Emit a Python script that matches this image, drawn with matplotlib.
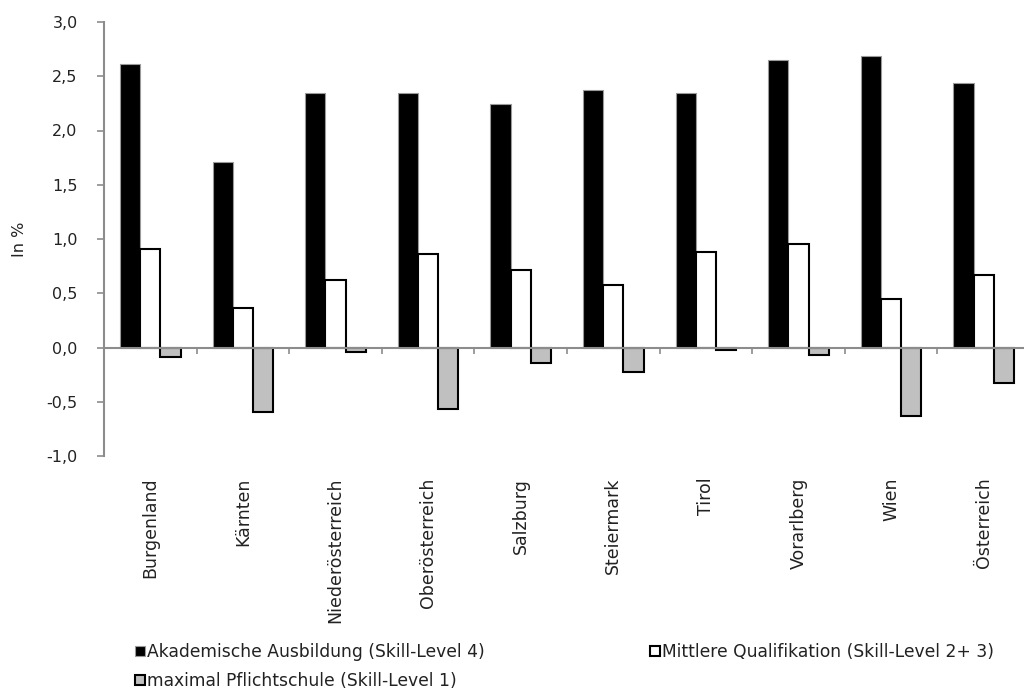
import numpy as np
import matplotlib
matplotlib.use("Agg")
import matplotlib.pyplot as plt
from matplotlib.transforms import blended_transform_factory

# Data
regions = ["Burgenland", "Kärnten", "Niederösterreich", "Oberösterreich", "Salzburg",
           "Steiermark", "Tirol", "Vorarlberg", "Wien", "Österreich"]
akademisch = [2.61, 1.71, 2.35, 2.35, 2.24, 2.37, 2.35, 2.65, 2.69, 2.44]
mittel = [0.91, 0.36, 0.62, 0.86, 0.71, 0.58, 0.88, 0.95, 0.45, 0.67]
pflicht = [-0.09, -0.59, -0.04, -0.57, -0.14, -0.23, -0.02, -0.07, -0.63, -0.33]
series_labels = ["Akademische Ausbildung (Skill-Level 4)",
                 "Mittlere Qualifikation (Skill-Level 2+ 3)",
                 "maximal Pflichtschule (Skill-Level 1)"]
yticks = [-1.0, -0.5, 0.0, 0.5, 1.0, 1.5, 2.0, 2.5, 3.0]

plt.rcParams['font.family'] = ['DejaVu Sans']
axis_grey = '#8c8c8c'
text_col = '#222222'

fig = plt.figure(figsize=(10.24, 6.98), dpi=100)
ax = fig.add_axes([104 / 1024, 1 - 456 / 698, 926 / 1024, 434 / 698])

x = np.arange(len(regions))
w = 0.218
b1 = ax.bar(x - w, akademisch, w, color='black', edgecolor='#9a9a9a', linewidth=0.8)
b2 = ax.bar(x, mittel, w, color='white', edgecolor='black', linewidth=1.5)
b3 = ax.bar(x + w, pflicht, w, color='#c0c0c0', edgecolor='black', linewidth=1.5)

ax.set_xlim(-0.5, len(regions) - 0.5)
ax.set_ylim(-1.0, 3.0)
ax.set_yticks(yticks)
ax.set_yticklabels([f"{v:.1f}".replace('.', ',') for v in yticks], fontsize=11.5, color=text_col)
ax.tick_params(axis='y', length=5, width=1.2, color=axis_grey, pad=14)

# zero line with ticks at category boundaries
ax.spines['bottom'].set_position(('data', 0))
ax.spines['bottom'].set_color(axis_grey)
ax.spines['bottom'].set_linewidth(1.5)
ax.spines['left'].set_color(axis_grey)
ax.spines['left'].set_linewidth(1.5)
ax.spines['top'].set_visible(False)
ax.spines['right'].set_visible(False)
ax.set_xticks(np.arange(len(regions) + 1) - 0.5)
ax.set_xticklabels([])
ax.tick_params(axis='x', length=4, width=1.2, color=axis_grey, direction='out')

# category labels below the plot area
trans = blended_transform_factory(ax.transData, ax.transAxes)
for i, name in enumerate(regions):
    ax.text(i, -0.05, name, transform=trans, rotation=90, ha='center', va='top',
            fontsize=12.5, color=text_col)

ax.set_ylabel("In %", fontsize=11.5, color=text_col)
ax.yaxis.set_label_coords(-0.083, 0.5)

# legend entries placed individually
leg_kw = dict(frameon=False, fontsize=12.3, handlelength=0.6, handleheight=0.6,
              handletextpad=0.1, borderpad=0, borderaxespad=0, labelcolor=text_col)
for h, lab, pos in [(b1, series_labels[0], (135 / 1024, 1 - 652 / 698)),
                    (b2, series_labels[1], (650 / 1024, 1 - 652 / 698)),
                    (b3, series_labels[2], (135 / 1024, 1 - 681 / 698))]:
    fig.legend(handles=[h], labels=[lab], loc='center left', bbox_to_anchor=pos, **leg_kw)

fig.savefig("out.png", dpi=100)
